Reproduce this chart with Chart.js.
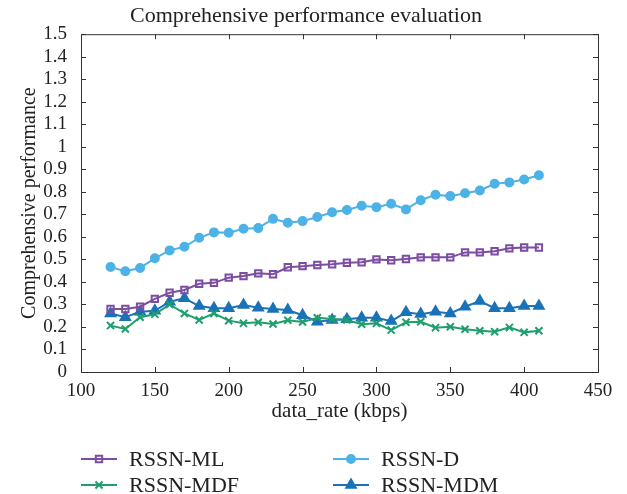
<!DOCTYPE html>
<html>
<head>
<meta charset="utf-8">
<script src="https://cdn.jsdelivr.net/npm/chart.js@4"></script>
<style>
  html, body { margin: 0; padding: 0; background: #fff; }
  #wrap { width: 627px; height: 494px; }
</style>
</head>
<body>
<div id="wrap"><canvas id="chart1" width="627" height="494"></canvas></div>
<script>
// data
const dataRates = [120, 130, 140, 150, 160, 170, 180, 190, 200, 210, 220, 230, 240, 250, 260,
  270, 280, 290, 300, 310, 320, 330, 340, 350, 360, 370, 380, 390, 400, 410];
const rssnML = [0.280, 0.280, 0.290, 0.325, 0.352, 0.364, 0.392, 0.396, 0.419, 0.426, 0.438, 0.434, 0.465, 0.470, 0.475,
  0.478, 0.485, 0.487, 0.500, 0.496, 0.502, 0.509, 0.509, 0.509, 0.531, 0.531, 0.536, 0.549, 0.553, 0.553];
const rssnD = [0.466, 0.447, 0.462, 0.505, 0.540, 0.556, 0.596, 0.620, 0.618, 0.636, 0.639, 0.680, 0.663, 0.670, 0.688,
  0.709, 0.719, 0.738, 0.732, 0.747, 0.722, 0.763, 0.787, 0.781, 0.794, 0.806, 0.836, 0.842, 0.855, 0.874];
const rssnMDF = [0.206, 0.191, 0.243, 0.256, 0.300, 0.260, 0.231, 0.260, 0.228, 0.216, 0.221, 0.213, 0.230, 0.222, 0.241,
  0.235, 0.231, 0.212, 0.216, 0.186, 0.221, 0.223, 0.197, 0.201, 0.190, 0.183, 0.179, 0.198, 0.176, 0.183];
const rssnMDM = [0.260, 0.243, 0.268, 0.272, 0.312, 0.327, 0.293, 0.283, 0.283, 0.297, 0.285, 0.280, 0.275, 0.252, 0.223,
  0.231, 0.234, 0.241, 0.241, 0.226, 0.265, 0.257, 0.268, 0.260, 0.290, 0.315, 0.283, 0.283, 0.293, 0.293];
const xTicks = [100, 150, 200, 250, 300, 350, 400, 450];

const serif = "'Liberation Serif', 'DejaVu Serif', serif";
const axisColor = '#333';

const toPoints = ys => ys.map((y, i) => ({ x: dataRates[i], y: y }));

const series = (label, values, color, style, radius, fill) => ({
  label: label,
  data: toPoints(values),
  borderColor: color,
  backgroundColor: fill,
  pointBorderColor: color,
  pointBackgroundColor: fill,
  borderWidth: 2,
  pointStyle: style,
  pointRadius: radius,
  pointBorderWidth: 2,
  tension: 0
});

// frame box, inward ticks and the two-column legend under the axes
const matlabLook = {
  id: 'matlabLook',
  afterDraw(chart) {
    const ctx = chart.ctx;
    const a = chart.chartArea;
    const xs = chart.scales.x, ys = chart.scales.y;
    ctx.save();
    ctx.strokeStyle = axisColor;
    ctx.lineWidth = 1;
    ctx.strokeRect(a.left + 0.5, a.top + 0.5, a.right - a.left, a.bottom - a.top);
    ctx.beginPath();
    xs.ticks.forEach(t => {
      const px = Math.round(xs.getPixelForValue(t.value)) + 0.5;
      ctx.moveTo(px, a.bottom); ctx.lineTo(px, a.bottom - 5);
      ctx.moveTo(px, a.top); ctx.lineTo(px, a.top + 5);
    });
    ys.ticks.forEach(t => {
      const py = Math.round(ys.getPixelForValue(t.value)) + 0.5;
      ctx.moveTo(a.left, py); ctx.lineTo(a.left + 5, py);
      ctx.moveTo(a.right, py); ctx.lineTo(a.right - 5, py);
    });
    ctx.stroke();

    // legend
    const slots = [[81, 459], [81, 485], [333, 459], [333, 485]];
    const order = [0, 2, 1, 3];
    ctx.font = '22px ' + serif;
    ctx.textBaseline = 'middle';
    ctx.textAlign = 'left';
    order.forEach((di, k) => {
      const ds = chart.data.datasets[di];
      const [lx, ly] = slots[k];
      ctx.strokeStyle = ds.borderColor;
      ctx.lineWidth = 2;
      ctx.beginPath();
      ctx.moveTo(lx, ly); ctx.lineTo(lx + 36, ly);
      ctx.stroke();
      ctx.fillStyle = ds.pointBackgroundColor;
      Chart.helpers.drawPoint(ctx, {
        pointStyle: ds.pointStyle, radius: ds.pointRadius, borderWidth: 2, rotation: 0
      }, lx + 18, ly);
      ctx.fillStyle = '#222';
      ctx.fillText(ds.label, lx + 48, ly + 1);
    });
    ctx.restore();
  }
};

const ctx = document.getElementById('chart1').getContext('2d');
new Chart(ctx, {
  type: 'line',
  data: {
    datasets: [
      series('RSSN-ML', rssnML, '#7b4ea3', 'rect', 4.5, 'rgba(255,255,255,0)'),
      series('RSSN-D', rssnD, '#4db2e6', 'circle', 4, '#4db2e6'),
      series('RSSN-MDF', rssnMDF, '#1f9e6e', 'crossRot', 5, '#1f9e6e'),
      series('RSSN-MDM', rssnMDM, '#1a72b8', 'triangle', 5.5, '#1a72b8')
    ]
  },
  options: {
    responsive: false,
    animation: false,
    layout: { padding: { left: 14, right: 29, top: 0, bottom: 70 } },
    plugins: {
      legend: { display: false },
      tooltip: { enabled: false },
      title: {
        display: true,
        text: 'Comprehensive performance evaluation',
        color: '#222',
        font: { family: serif, size: 22, weight: 'normal', lineHeight: 1.1 },
        padding: { top: 4, bottom: 6 }
      }
    },
    scales: {
      x: {
        type: 'linear',
        min: 100, max: 450,
        afterBuildTicks: s => { s.ticks = xTicks.map(v => ({ value: v })); },
        grid: { display: false },
        border: { display: false },
        ticks: { color: '#222', font: { family: serif, size: 19 }, padding: 0, maxRotation: 0 },
        title: {
          display: true, text: 'data_rate (kbps)', color: '#222',
          font: { family: serif, size: 21 }, padding: { top: 0, bottom: 0 }
        },
        afterFit: s => { s.height = 494 - 70 - 372; }
      },
      y: {
        min: 0, max: 1.5,
        grid: { display: false },
        border: { display: false },
        ticks: {
          stepSize: 0.1, autoSkip: false, color: '#222', font: { family: serif, size: 19 }, padding: 6,
          callback: v => String(Number(v.toFixed(1)))
        },
        title: {
          display: true, text: 'Comprehensive performance', color: '#222',
          font: { family: serif, size: 20 }, padding: { bottom: 0 }
        },
        afterFit: s => { s.width = 81 - 14; }
      }
    }
  },
  plugins: [matlabLook]
});
</script>
</body>
</html>
